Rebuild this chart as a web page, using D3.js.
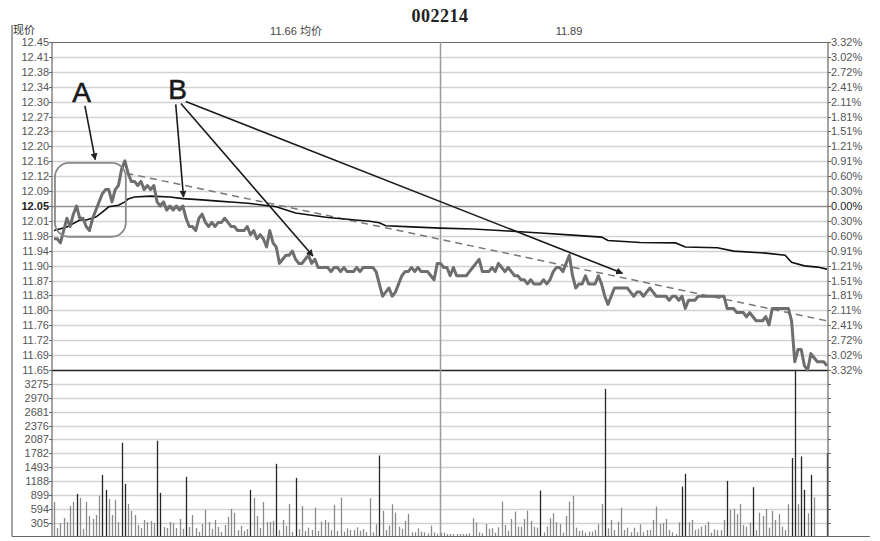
<!DOCTYPE html>
<html><head><meta charset="utf-8">
<script src="https://cdn.jsdelivr.net/npm/d3@7"></script>
<style>body{margin:0;background:#fff}svg{display:block}</style>
</head><body><svg id="c" width="880" height="541"></svg>
<script>
const title = "002214";
const topLabels = ["现价", "11.66 均价", "11.89"];
const prevClose = 12.05;
const priceTickLabels = ["12.45","12.41","12.38","12.34","12.30","12.27","12.23","12.20","12.16","12.12","12.09","12.05","12.01","11.98","11.94","11.90","11.87","11.83","11.80","11.76","11.72","11.69","11.65"];
const pctTickLabels = ["3.32%","3.02%","2.72%","2.41%","2.11%","1.81%","1.51%","1.21%","0.91%","0.60%","0.30%","0.00%","0.30%","0.60%","0.91%","1.21%","1.51%","1.81%","2.11%","2.41%","2.72%","3.02%","3.32%"];
const volTickLabels = ["3275","2970","2681","2376","2087","1782","1493","1188","899","594","305"];

// one value per trading minute (0..240)
const price = [
11.97,11.97,11.96,11.99,12.02,12.00,12.03,12.05,12.02,12.02,
12.00,11.99,12.02,12.04,12.06,12.08,12.09,12.09,12.06,12.09,
12.10,12.14,12.16,12.13,12.11,12.11,12.10,12.11,12.09,12.10,
12.09,12.10,12.06,12.05,12.06,12.04,12.05,12.04,12.05,12.04,
12.05,12.02,12.00,12.00,11.99,12.02,12.03,12.01,12.00,12.01,
12.00,12.01,12.01,12.02,12.01,12.00,12.00,11.99,11.99,11.99,
12.00,11.98,11.99,11.97,11.98,11.97,11.95,11.99,11.96,11.95,
11.91,11.92,11.93,11.93,11.94,11.92,11.91,11.91,11.92,11.93,
11.91,11.92,11.90,11.90,11.90,11.90,11.89,11.90,11.90,11.89,
11.90,11.89,11.89,11.89,11.90,11.89,11.90,11.90,11.90,11.90,
11.89,11.86,11.83,11.84,11.85,11.83,11.84,11.86,11.88,11.89,
11.89,11.90,11.89,11.90,11.89,11.89,11.89,11.88,11.87,11.91,
11.91,11.90,11.90,11.88,11.90,11.88,11.88,11.88,11.88,11.89,
11.90,11.91,11.92,11.89,11.89,11.89,11.90,11.89,11.91,11.90,
11.89,11.90,11.89,11.88,11.88,11.87,11.87,11.86,11.87,11.86,
11.86,11.86,11.87,11.86,11.87,11.89,11.90,11.90,11.89,11.91,
11.93,11.88,11.85,11.86,11.86,11.88,11.86,11.86,11.86,11.88,
11.86,11.83,11.81,11.83,11.85,11.85,11.85,11.85,11.85,11.84,
11.83,11.84,11.84,11.83,11.84,11.85,11.84,11.83,11.83,11.83,
11.83,11.82,11.83,11.83,11.82,11.83,11.80,11.82,11.82,11.82,
11.83,11.83,11.83,11.83,11.83,11.83,11.83,11.83,11.83,11.80,
11.80,11.80,11.79,11.79,11.79,11.78,11.79,11.78,11.77,11.77,
11.77,11.78,11.76,11.80,11.80,11.80,11.80,11.80,11.80,11.77,
11.67,11.70,11.70,11.66,11.65,11.69,11.68,11.67,11.67,11.67,
11.66];

const avgMinutes = [0,4,8,10,13,15,17,20,22,23,25,30,36,40,46,51,56,61,69,75,85,98,101,103,111,120,130,141,151,161,170,172,182,193,196,206,211,221,227,229,233,237,240];
const avgPrice = [11.99,11.999,12.016,12.016,12.023,12.035,12.048,12.052,12.060,12.067,12.072,12.074,12.072,12.068,12.065,12.062,12.059,12.056,12.048,12.033,12.022,12.013,12.009,12.002,11.999,11.996,11.994,11.989,11.984,11.979,11.974,11.966,11.961,11.960,11.950,11.948,11.940,11.935,11.930,11.913,11.904,11.901,11.896];

const volume = [
742,183,290,398,312,656,742,915,829,161,
742,441,377,463,872,1323,1000,807,463,785,
312,2012,1130,699,549,463,247,183,355,312,
333,290,2055,936,204,183,312,290,183,377,
161,1280,204,463,183,97,269,570,312,161,
355,204,97,247,420,592,506,140,226,118,
161,1000,829,441,183,742,312,312,333,1560,
140,355,226,699,97,1259,155,656,118,190,
140,620,118,319,355,305,133,678,118,835,
104,176,140,140,197,125,161,90,822,90,
262,1739,549,140,233,693,512,211,161,333,
484,90,90,176,104,90,68,233,90,60,
82,82,54,54,54,54,54,54,54,68,
391,305,90,68,269,161,176,82,197,749,
247,125,377,534,211,211,377,555,333,211,
190,986,90,211,391,499,305,269,82,441,
749,872,190,120,130,82,104,104,140,262,
699,3168,176,355,140,319,620,140,190,90,
190,90,262,90,140,140,355,642,269,290,
377,140,90,54,305,1072,1345,305,355,140,
161,211,247,319,82,155,140,140,355,1194,
570,592,484,699,247,211,305,1058,140,512,
441,592,190,549,355,484,211,140,693,1683,
3560,693,1718,1000,499,1323,843,0,0,0,
1790];

const trendMinutes = [22.5, 240];
const trendPrices = [12.13, 11.77];
const boxMinutes = [0.3, 22.3];
const boxPrices = [12.155, 11.975];
const letterLabels = ["A", "B"];
const letterMinutes = [8.6, 38.4];
const letterPrices = [12.304, 12.311];
const arrowFromMinutes = [9.6, 37.8, 39.4, 40.9];
const arrowFromPrices = [12.294, 12.298, 12.300, 12.305];
const arrowToMinutes = [12.8, 40.2, 80.4, 176.5];
const arrowToPrices = [12.163, 12.072, 11.928, 11.886];

const svg = d3.select("#c");
const L = 52, R = 828;
const x = d3.scaleLinear().domain([0, 240]).range([54, 827]);
const yP = d3.scaleLinear().domain([11.65, 12.45]).range([370, 42]);
const yV = d3.scaleLinear().domain([0, 3572.7]).range([536.5, 370]);
const font = "'Liberation Sans', Arial, sans-serif";

// price gridlines
const pTicks = d3.range(priceTickLabels.length).map(i => d3.interpolateNumber(12.45, 11.65)(i / (priceTickLabels.length - 1)));
const g = svg.append("g");
pTicks.forEach((v, i) => {
  const yy = Math.round(yP(v)) + 0.5;
  let col = "#d2d2d2", w = 1.5;
  if (Math.abs(v - prevClose) < 1e-6) { col = "#8f8f8f"; w = 1.5; }
  if (i === 0) { col = "#6a6a6a"; w = 1.2; }
  if (i === pTicks.length - 1) { col = "#222"; w = 1.5; }
  g.append("line").attr("x1", L).attr("x2", R).attr("y1", yy).attr("y2", yy).attr("stroke", col).attr("stroke-width", w);
  g.append("line").attr("x1", L - 3).attr("x2", L).attr("y1", yy).attr("y2", yy).attr("stroke", "#666");
  g.append("line").attr("x1", R).attr("x2", R + 3).attr("y1", yy).attr("y2", yy).attr("stroke", "#666");
  g.append("text").attr("x", 49).attr("y", yy).attr("dy", "0.35em").attr("text-anchor", "end")
    .attr("font-family", font).attr("font-size", 11)
    .attr("font-weight", Math.abs(v - prevClose) < 1e-6 ? "bold" : "normal")
    .attr("fill", Math.abs(v - prevClose) < 1e-6 ? "#222" : "#555").text(priceTickLabels[i]);
  g.append("text").attr("x", 831).attr("y", yy).attr("dy", "0.35em").attr("text-anchor", "start")
    .attr("font-family", font).attr("font-size", 11)
    .attr("fill", Math.abs(v - prevClose) < 1e-6 ? "#222" : "#555").text(pctTickLabels[i]);
});

// volume gridlines
const vTicks = d3.range(volTickLabels.length).map(i => (volTickLabels.length - i) * 3572.7 / 12);
vTicks.forEach((v, i) => {
  const yy = Math.round(yV(v)) + 0.5;
  g.append("line").attr("x1", L).attr("x2", R).attr("y1", yy).attr("y2", yy).attr("stroke", "#d2d2d2").attr("stroke-width", 1.5);
  g.append("line").attr("x1", L - 3).attr("x2", L).attr("y1", yy).attr("y2", yy).attr("stroke", "#666");
  g.append("line").attr("x1", R).attr("x2", R + 3).attr("y1", yy).attr("y2", yy).attr("stroke", "#666");
  g.append("text").attr("x", 49).attr("y", yy).attr("dy", "0.35em").attr("text-anchor", "end")
    .attr("font-family", font).attr("font-size", 11).attr("fill", "#555").text(volTickLabels[i]);
});

// volume bars
svg.append("g").selectAll("line").data(volume.map((v, i) => ({ m: i, v })).filter(d => d.v > 0)).join("line")
  .attr("x1", d => Math.round(x(d.m)) + 0.5).attr("x2", d => Math.round(x(d.m)) + 0.5)
  .attr("y1", yV(0)).attr("y2", d => yV(d.v))
  .attr("stroke", d => d.v >= 900 ? "#262626" : "#8a8a8a").attr("stroke-width", 1.3);

// frames
svg.append("line").attr("x1", x(120)).attr("x2", x(120)).attr("y1", 42).attr("y2", 536.5).attr("stroke", "#9a9a9a").attr("stroke-width", 1.5);
svg.append("line").attr("x1", L).attr("x2", L).attr("y1", 42).attr("y2", 536.5).attr("stroke", "#666").attr("stroke-width", 1.2);
svg.append("line").attr("x1", R).attr("x2", R).attr("y1", 42).attr("y2", 536.5).attr("stroke", "#666").attr("stroke-width", 1.2);
svg.append("line").attr("x1", 12).attr("x2", 12).attr("y1", 25).attr("y2", 536.5).attr("stroke", "#666").attr("stroke-width", 1.2);
svg.append("line").attr("x1", 12).attr("x2", 870).attr("y1", 536.5).attr("y2", 536.5).attr("stroke", "#666").attr("stroke-width", 1.2);

// trend (dashed)
svg.append("path").attr("d", d3.line().x(d => x(d[0])).y(d => yP(d[1]))(trendMinutes.map((m, i) => [m, trendPrices[i]])))
  .attr("fill", "none").attr("stroke", "#777").attr("stroke-width", 1.5).attr("stroke-dasharray", "7,5");

// average line
svg.append("path").attr("d", d3.line().x(d => x(d[0])).y(d => yP(d[1]))(avgMinutes.map((m, i) => [m, avgPrice[i]])))
  .attr("fill", "none").attr("stroke", "#111").attr("stroke-width", 1.6);

// price line
svg.append("path").attr("d", d3.line().x((d, i) => x(i)).y(d => yP(d))(price))
  .attr("fill", "none").attr("stroke", "#6e6e6e").attr("stroke-width", 3).attr("stroke-linejoin", "round");

// annotations
svg.append("rect").attr("x", x(boxMinutes[0])).attr("y", yP(boxPrices[0]))
  .attr("width", x(boxMinutes[1]) - x(boxMinutes[0])).attr("height", yP(boxPrices[1]) - yP(boxPrices[0]))
  .attr("rx", 14).attr("fill", "none").attr("stroke", "#8a8a8a").attr("stroke-width", 1.8);

const defs = svg.append("defs");
defs.append("marker").attr("id", "ah").attr("viewBox", "0 0 10 10").attr("refX", 9).attr("refY", 5)
  .attr("markerWidth", 7).attr("markerHeight", 7).attr("markerUnits", "userSpaceOnUse").attr("orient", "auto")
  .append("path").attr("d", "M0,0 L10,5 L0,10 z").attr("fill", "#222");
arrowFromMinutes.forEach((m, i) => {
  svg.append("line").attr("x1", x(m)).attr("y1", yP(arrowFromPrices[i]))
    .attr("x2", x(arrowToMinutes[i])).attr("y2", yP(arrowToPrices[i]))
    .attr("stroke", "#1a1a1a").attr("stroke-width", 1.6).attr("marker-end", "url(#ah)");
});
letterLabels.forEach((t, i) => {
  svg.append("text").attr("x", x(letterMinutes[i])).attr("y", yP(letterPrices[i])).attr("text-anchor", "middle")
    .attr("font-family", font).attr("font-size", 28).attr("fill", "#1a1a1a")
    .attr("stroke", "#1a1a1a").attr("stroke-width", 0.6).text(t);
});

// titles
svg.append("text").attr("x", 440).attr("y", 22).attr("text-anchor", "middle")
  .attr("font-family", "'Liberation Serif', 'Times New Roman', serif").attr("font-weight", "bold").attr("font-size", 18)
  .attr("letter-spacing", 0.5).attr("fill", "#222").text(title);
svg.append("text").attr("x", 13).attr("y", 34).attr("font-family", "'Noto Sans CJK SC', sans-serif").attr("font-size", 11).attr("fill", "#333").text(topLabels[0]);
svg.append("text").attr("x", 296).attr("y", 35).attr("text-anchor", "middle").attr("font-family", "'Liberation Sans', 'Noto Sans CJK SC', sans-serif").attr("font-size", 11).attr("fill", "#444").text(topLabels[1]);
svg.append("text").attr("x", 569).attr("y", 35).attr("text-anchor", "middle").attr("font-family", font).attr("font-size", 11).attr("fill", "#444").text(topLabels[2]);
</script></body></html>
